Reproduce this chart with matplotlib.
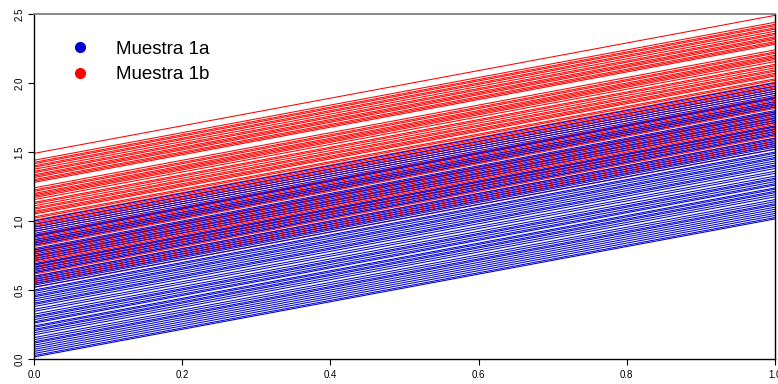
import matplotlib
matplotlib.use("Agg")
import matplotlib.pyplot as plt
from matplotlib.lines import Line2D

plt.rcParams['font.family'] = ['Liberation Sans', 'DejaVu Sans']

x_range = [0.0, 1.0]
slope = 1.0

blue_intercepts = [
    0.015, 0.025, 0.04, 0.055, 0.07, 0.085, 0.10, 0.115, 0.125, 0.14, 0.155,
    0.175, 0.19, 0.205, 0.215, 0.23, 0.24, 0.26, 0.27, 0.285, 0.30, 0.31,
    0.325, 0.345, 0.36, 0.38, 0.395, 0.405, 0.42, 0.435, 0.45, 0.46, 0.475,
    0.49, 0.50, 0.52, 0.535, 0.545, 0.56, 0.575, 0.59, 0.60, 0.625, 0.635,
    0.65, 0.665, 0.68, 0.69, 0.715, 0.73, 0.745, 0.76, 0.775, 0.79, 0.80,
    0.825, 0.84, 0.85, 0.865, 0.885, 0.895, 0.91, 0.925, 0.94, 0.955, 0.975,
    1.00,
]
red_intercepts = [
    0.52, 0.55, 0.565, 0.58, 0.60, 0.615, 0.625, 0.645, 0.66, 0.67, 0.685,
    0.70, 0.71, 0.725, 0.74, 0.75, 0.77, 0.78, 0.79, 0.815, 0.825, 0.835,
    0.85, 0.86, 0.875, 0.89, 0.90, 0.925, 0.94, 0.955, 0.965, 0.98, 0.99,
    1.005, 1.02, 1.03, 1.05, 1.06, 1.07, 1.085, 1.095, 1.11, 1.125, 1.135,
    1.155, 1.17, 1.18, 1.19, 1.20, 1.215, 1.225, 1.24, 1.28, 1.29, 1.30,
    1.315, 1.325, 1.335, 1.35, 1.36, 1.375, 1.39, 1.40, 1.415, 1.425, 1.44,
    1.49,
]
labels = ["Muestra 1a", "Muestra 1b"]
colors = ["#0000CD", "#FF0000"]

fig = plt.figure(figsize=(7.78, 3.84), dpi=100)
ax = fig.add_axes([34/778, 25/384, 741/778, 345/384])

n = max(len(blue_intercepts), len(red_intercepts))
for i in range(n):
    if i < len(blue_intercepts):
        b = blue_intercepts[i]
        ax.plot(x_range, [b + slope * x_range[0], b + slope * x_range[1]],
                color=colors[0], lw=0.75)
    if i < len(red_intercepts):
        r = red_intercepts[i]
        ax.plot(x_range, [r + slope * x_range[0], r + slope * x_range[1]],
                color=colors[1], lw=0.75)

ax.set_xlim(0, 1)
ax.set_ylim(0, 2.5)
ax.set_xticks([0, 0.2, 0.4, 0.6, 0.8, 1.0])
ax.set_xticklabels(["0.0", "0.2", "0.4", "0.6", "0.8", "1.0"])
ax.set_yticks([0, 0.5, 1.0, 1.5, 2.0, 2.5])
ax.set_yticklabels(["0.0", "0.5", "1.0", "1.5", "2.0", "2.5"], rotation=90, va='center')
ax.tick_params(axis='both', labelsize=7, length=4.5, width=0.8, pad=3.5, colors='black')
ax.tick_params(axis='y', pad=2.5)
ax.spines['top'].set_color('#777777')
ax.spines['top'].set_linewidth(1.2)
for s in ['left', 'bottom', 'right']:
    ax.spines[s].set_color('black')
    ax.spines[s].set_linewidth(1.0)

handles = [Line2D([], [], linestyle='none', marker='o', markersize=7,
                  color=c) for c in colors]
ax.legend(handles, labels, loc='upper left', bbox_to_anchor=(0.026, 0.945),
          frameon=False, fontsize=13.5, handletextpad=0.95, labelspacing=0.45,
          borderaxespad=0)

fig.savefig("out.png", dpi=100)
